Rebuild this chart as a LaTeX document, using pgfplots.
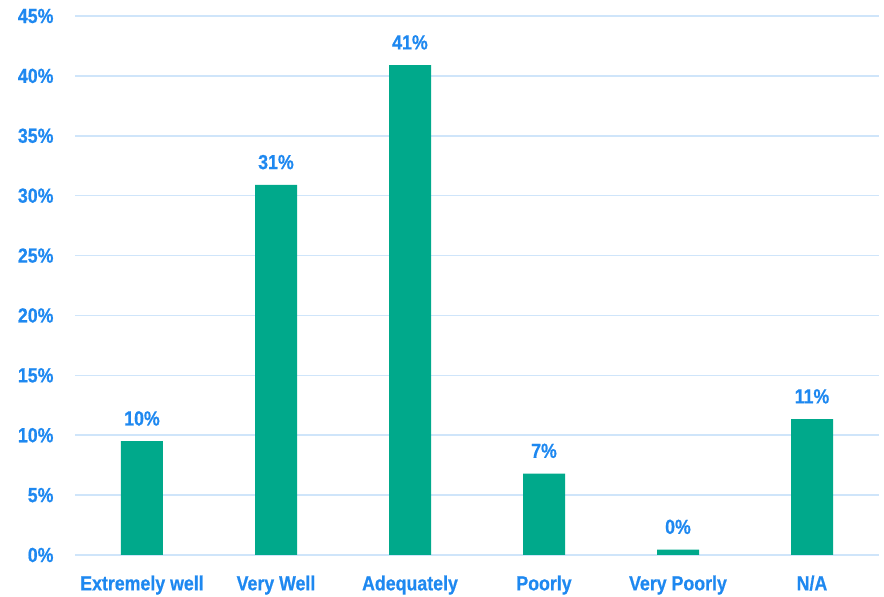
\documentclass[border=0pt]{standalone}
\usepackage{pgfplots}
\pgfplotsset{compat=1.18}
\usepackage{fontspec}
\newfontfamily\cf[FakeStretch=0.87,FakeBold=0.6]{Liberation Sans Bold}
\definecolor{barg}{HTML}{00A98B}
\definecolor{lblue}{HTML}{1E88F0}
\definecolor{gridb}{HTML}{CFE5FA}
\begin{document}
\begin{tikzpicture}
\useasboundingbox (-75bp,-42bp) rectangle (809bp,555bp);
\begin{axis}[
  scale only axis, width=804bp, height=539bp,
  xmin=-0.5, xmax=5.5, ymin=0, ymax=45,
  axis line style={draw=none},
  major tick length=0,
  xtick={0,1,2,3,4,5},
  xticklabels={Extremely well,Very Well,Adequately,Poorly,Very Poorly,N/A},
  ytick={0,5,...,45},
  yticklabel={\pgfmathprintnumber{\tick}\%},
  /pgf/number format/assume math mode=true,
  ymajorgrids, grid style={gridb, line width=1.5bp},
  ticklabel style={font=\cf\fontsize{20.5}{23}\selectfont, text=lblue},
  yticklabel style={xshift=-18bp},
  xticklabel style={yshift=-17bp},
  nodes near coords={\pgfmathprintnumber[fixed,precision=0]{\pgfplotspointmeta}\%},
  point meta=explicit,
  nodes near coords style={font=\cf\fontsize{20.5}{23}\selectfont, text=lblue, yshift=12bp},
]
\addplot[ybar, bar width=42bp, fill=barg, draw=none] coordinates {
 (0,9.5) [10] (1,30.9) [31] (2,40.9) [41] (3,6.8) [7] (4,0.45) [0] (5,11.35) [11]
};
\end{axis}
\end{tikzpicture}
\end{document}
